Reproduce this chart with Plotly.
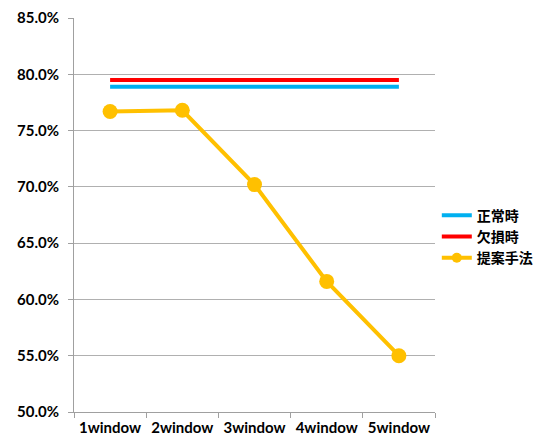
import plotly.graph_objects as go

categories = ["1window", "2window", "3window", "4window", "5window"]
normal = [78.9, 78.9, 78.9, 78.9, 78.9]
damaged = [79.5, 79.5, 79.5, 79.5, 79.5]
proposed = [76.7, 76.8, 70.2, 61.6, 55.0]
y_ticks = [50, 55, 60, 65, 70, 75, 80, 85]

fig = go.Figure()
fig.add_trace(go.Scatter(x=categories, y=normal, name="正常時", mode="lines",
                         line=dict(color="#00B0F0", width=4)))
fig.add_trace(go.Scatter(x=categories, y=damaged, name="欠損時", mode="lines",
                         line=dict(color="#FF0000", width=4)))
fig.add_trace(go.Scatter(x=categories, y=proposed, name="提案手法", mode="lines+markers",
                         line=dict(color="#FFC000", width=4), showlegend=False,
                         marker=dict(color="#FFC000", size=15)))
# legend entry with smaller marker, as in the reference
fig.add_trace(go.Scatter(x=[None], y=[None], name="提案手法", mode="lines+markers",
                         line=dict(color="#FFC000", width=4),
                         marker=dict(color="#FFC000", size=10)))

font = dict(family="Lato, 'Noto Sans CJK JP', sans-serif", size=15, color="#000000")
fig.update_layout(
    width=545, height=444,
    margin=dict(l=74, r=110, t=18, b=32, autoexpand=False),
    paper_bgcolor="white", plot_bgcolor="white",
    font=font,
    showlegend=True,
    legend=dict(x=1.005, xanchor="left", y=0.445, yanchor="middle",
                font=dict(family="'Noto Sans CJK JP', sans-serif", size=14, color="#000", weight="bold"),
                itemwidth=30, tracegroupgap=0, bgcolor="rgba(0,0,0,0)"),
    xaxis=dict(type="category", range=[-0.5, 4.5], tickson="boundaries", ticks="outside",
               ticklen=5, tickcolor="#a0a0a0", showline=True, linecolor="#a0a0a0", linewidth=1,
               showgrid=False, tickfont=dict(size=15, weight="bold"), ticklabelstandoff=2),
    yaxis=dict(range=[50, 85], tickvals=y_ticks, ticktext=[f"{v:.1f}%" for v in y_ticks],
               ticks="outside", ticklen=5, tickcolor="#a0a0a0", showline=True,
               linecolor="#a0a0a0", linewidth=1, showgrid=True, gridcolor="#b0b0b0",
               gridwidth=1, zeroline=False, tickfont=dict(size=15, weight="bold"),
               ticklabelstandoff=6),
)
fig.write_html("out.html")
